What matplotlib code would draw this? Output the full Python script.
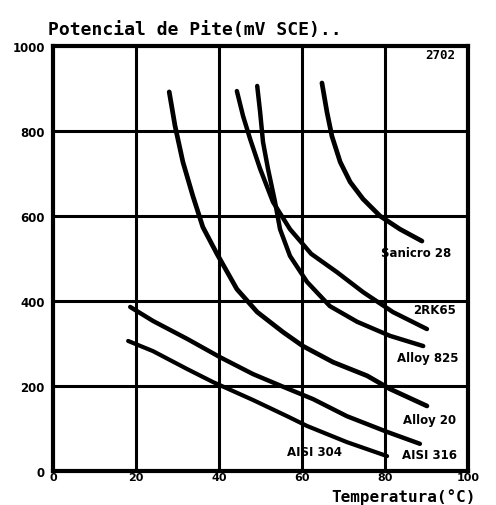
import numpy as np
import matplotlib
matplotlib.use('Agg')
import matplotlib.pyplot as plt

plt.rcParams['lines.solid_capstyle'] = 'round'
plt.rcParams['lines.solid_joinstyle'] = 'round'

# curves: temperature (C) vs pitting potential (mV SCE)
sanicro28_t = [64.8, 66.0, 67.2, 69.2, 71.6, 74.7, 78.8, 83.6, 88.9]
sanicro28_e = [913, 845, 788, 727, 680, 640, 600, 569, 541]

rk65_t = [44.3, 45.8, 47.5, 49.9, 53.0, 57.1, 62.2, 68.4, 74.7, 81.9, 90.1]
rk65_e = [894, 835, 781, 711, 633, 569, 511, 468, 421, 374, 334]

alloy825_t = [49.2, 49.9, 50.6, 51.8, 53.5, 54.7, 57.1, 61.2, 66.7, 73.3, 81.2, 89.2]
alloy825_e = [906, 845, 774, 711, 633, 569, 506, 445, 388, 351, 318, 294]

alloy20_t = [28.0, 29.4, 31.3, 33.7, 36.1, 39.5, 44.3, 49.2, 55.4, 60.2, 67.5, 75.7, 81.2, 90.1]
alloy20_e = [892, 812, 727, 647, 574, 511, 428, 374, 327, 294, 256, 224, 193, 153]

aisi316_t = [18.6, 24.1, 32.3, 40.2, 48.2, 55.5, 62.7, 70.8, 80.5, 88.4]
aisi316_e = [386, 353, 311, 268, 228, 198, 169, 129, 92, 64]

aisi304_t = [18.1, 24.1, 32.3, 38.6, 48.2, 56.4, 61.2, 70.8, 80.5]
aisi304_e = [306, 282, 240, 209, 167, 129, 106, 68, 35]

curve_names = ['Sanicro 28', '2RK65', 'Alloy 825', 'Alloy 20', 'AISI 304', 'AISI 316']
label_x = [87.5, 92.0, 90.4, 90.8, 63.1, 90.8]
label_y = [513, 379, 266, 122, 45, 38]

x_ticks = [0, 20, 40, 60, 80, 100]
y_ticks = [0, 200, 400, 600, 800, 1000]

fig = plt.figure(figsize=(4.96, 5.06), dpi=100)
ax = fig.add_axes([0.1069, 0.0672, 0.8367, 0.8399])

# heavy grid
for xv in x_ticks[1:-1]:
    ax.axvline(xv, c='k', lw=2.2, zorder=1)
for yv in y_ticks[1:-1]:
    ax.axhline(yv, c='k', lw=2.2, zorder=1)

ax.plot(sanicro28_t, sanicro28_e, c='k', lw=3.4)
ax.plot(rk65_t, rk65_e, c='k', lw=3.2)
ax.plot(alloy825_t, alloy825_e, c='k', lw=3.2)
ax.plot(alloy20_t, alloy20_e, c='k', lw=3.4)
ax.plot(aisi316_t, aisi316_e, c='k', lw=3.2)
ax.plot(aisi304_t, aisi304_e, c='k', lw=3.0)

for name, lx, ly in zip(curve_names, label_x, label_y):
    ax.text(lx, ly, name, ha='center', va='center', fontsize=8.5,
            fontweight='bold', family='DejaVu Sans')

ax.text(93.3, 979, '2702', ha='center', va='center', fontsize=9,
        fontweight='bold', family='DejaVu Sans Mono')

ax.set_xlim(0, 100)
ax.set_ylim(0, 1000)
ax.set_xticks(x_ticks)
ax.set_yticks(y_ticks)
ax.tick_params(length=0, labelsize=8.5)
ax.tick_params(axis='x', pad=1, labelsize=8)
ax.tick_params(axis='y', pad=6)
for lab in ax.get_xticklabels() + ax.get_yticklabels():
    lab.set_fontweight('bold')
for sp in ax.spines.values():
    sp.set_linewidth(3)

fig.text(0.097, 0.941, 'Potencial de Pite(mV SCE)..', ha='left', va='center',
         fontsize=13, fontweight='bold', family='DejaVu Sans Mono')
fig.text(0.667, 0.002, 'Temperatura(°C)', ha='left', va='bottom',
         fontsize=11.5, fontweight='bold', family='DejaVu Sans Mono')

plt.savefig('out.png', dpi=100)
